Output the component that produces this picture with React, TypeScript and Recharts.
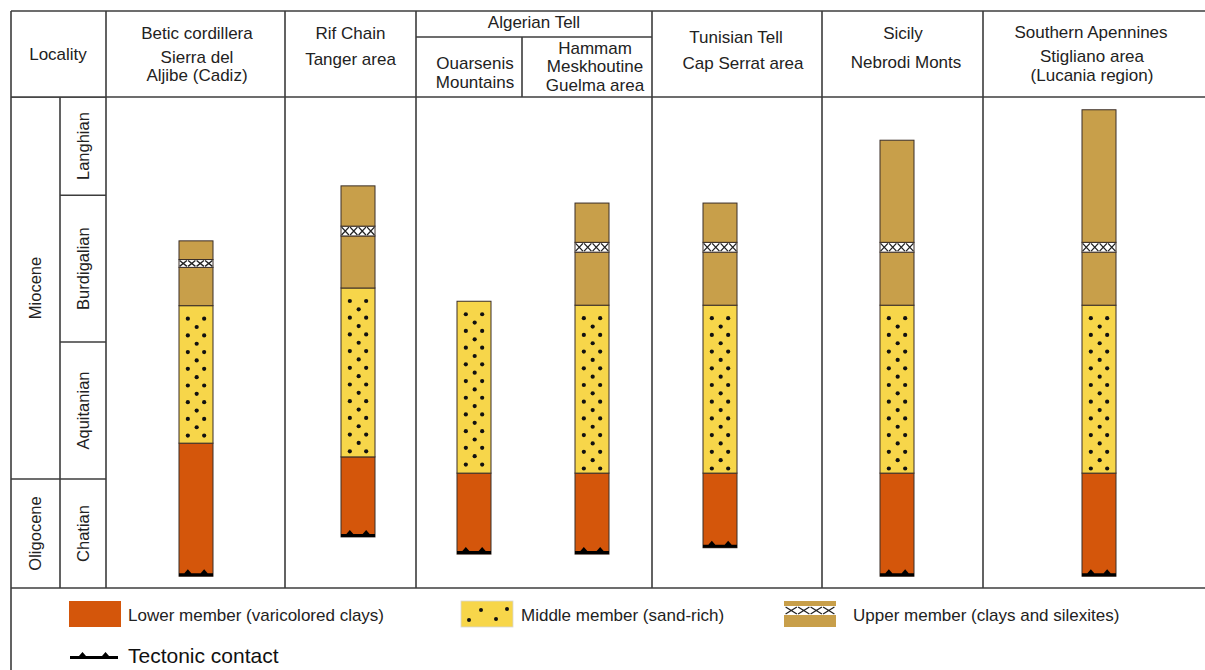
import React from 'react';
import { BarChart, Bar, XAxis, YAxis } from 'recharts';

// ---------------------------------------------------------------------------
// Data (vertical unit: relative stratigraphic height, 0 = table base, 100 = top)
// ---------------------------------------------------------------------------

const EPOCHS = ['Oligocene', 'Miocene'];
const EPOCH_THICKNESS = [22.2, 77.8];

const STAGES = ['Chatian', 'Aquitanian', 'Burdigalian', 'Langhian'];
const STAGE_THICKNESS = [22.2, 27.9, 29.9, 20.0];

const LOCALITIES = [
  'Betic cordillera',
  'Rif Chain',
  'Ouarsenis Mountains',
  'Hammam Meskhoutine',
  'Tunisian Tell',
  'Sicily',
  'Southern Apennines',
];

// boundaries of each section
const SECTION_BASE = [2.4, 10.4, 6.9, 6.9, 8.2, 2.4, 2.4];
const LOWER_TOP = [29.5, 26.7, 23.4, 23.4, 23.4, 23.4, 23.4];
const MIDDLE_TOP = [57.5, 61.1, 58.4, 57.6, 57.6, 57.6, 57.6];
const SILEXITE_BASE = [65.3, 71.7, 58.4, 68.4, 68.4, 68.4, 68.4];
const SILEXITE_TOP = [66.9, 73.7, 58.4, 70.4, 70.4, 70.4, 70.4];
const SECTION_TOP = [70.7, 81.9, 58.4, 78.4, 78.4, 91.2, 97.4];

// ---------------------------------------------------------------------------
// Styles / layout
// ---------------------------------------------------------------------------

const ORANGE = '#d4560b';
const YELLOW = '#f7d64a';
const TAN = '#c89f4a';
const OUTLINE = '#3a2e28';
const LINE = '#3c3c3c';
const TEXT = '#222';
const FONT = '"Liberation Sans", Arial, sans-serif';

const TOP = 97;
const BOTTOM = 588;
const PLOT_H = BOTTOM - TOP;

// table column for each locality and the centre of its column of strata
const COLUMN_LAYOUT = [
  { left: 106, right: 285, bar: 196 },
  { left: 285, right: 416, bar: 358 },
  { left: 416, right: 522, bar: 474 },
  { left: 522, right: 652, bar: 592 },
  { left: 652, right: 822, bar: 720 },
  { left: 822, right: 983, bar: 897 },
  { left: 983, right: 1205, bar: 1099 },
];

const sectionRows = LOCALITIES.map((name, i) => ({
  name,
  base: SECTION_BASE[i],
  lower: LOWER_TOP[i] - SECTION_BASE[i],
  middle: MIDDLE_TOP[i] - LOWER_TOP[i],
  upperLow: SILEXITE_BASE[i] - MIDDLE_TOP[i],
  silexite: SILEXITE_TOP[i] - SILEXITE_BASE[i],
  upperHigh: SECTION_TOP[i] - SILEXITE_TOP[i],
}));

// ---------------------------------------------------------------------------
// Shapes
// ---------------------------------------------------------------------------

interface ShapeProps {
  x?: number;
  y?: number;
  width?: number;
  height?: number;
}

function TectonicMark({ x, y, w }: { x: number; y: number; w: number }) {
  // y = bottom of the mark
  const t1 = x + w * 0.26;
  const t2 = x + w * 0.74;
  return (
    <path
      d={`M${x},${y} L${x},${y - 3} L${t1 - 3.5},${y - 3} L${t1},${y - 7} L${t1 + 3.5},${y - 3}
          L${t2 - 3.5},${y - 3} L${t2},${y - 7} L${t2 + 3.5},${y - 3} L${x + w},${y - 3} L${x + w},${y} Z`}
      fill="#000"
    />
  );
}

function LowerShape(props: ShapeProps) {
  const { x = 0, y = 0, width = 0, height = 0 } = props;
  if (height <= 0) return null;
  return (
    <g>
      <rect x={x} y={y} width={width} height={height} fill={ORANGE} stroke={OUTLINE} strokeWidth={1} />
      <TectonicMark x={x} y={y + height} w={width} />
    </g>
  );
}

function sandDots(x: number, y: number, w: number, h: number) {
  const dots: React.ReactNode[] = [];
  let k = 0;
  for (let cy = y + 13; cy < y + h - 4; cy += 8.35) {
    if (k % 2 === 0) {
      dots.push(<circle key={`a${k}`} cx={x + w * 0.26} cy={cy} r={2.1} fill="#111" />);
      dots.push(<circle key={`b${k}`} cx={x + w * 0.74} cy={cy} r={2.1} fill="#111" />);
    } else {
      dots.push(<circle key={`c${k}`} cx={x + w * 0.52} cy={cy} r={2.1} fill="#111" />);
    }
    k += 1;
  }
  return dots;
}

function MiddleShape(props: ShapeProps) {
  const { x = 0, y = 0, width = 0, height = 0 } = props;
  if (height <= 0) return null;
  return (
    <g>
      <rect x={x} y={y} width={width} height={height} fill={YELLOW} stroke={OUTLINE} strokeWidth={1} />
      {sandDots(x, y, width, height)}
    </g>
  );
}

function UpperShape(props: ShapeProps) {
  const { x = 0, y = 0, width = 0, height = 0 } = props;
  if (height <= 0) return null;
  return <rect x={x} y={y} width={width} height={height} fill={TAN} stroke={OUTLINE} strokeWidth={1} />;
}

function crosses(x: number, y: number, w: number, h: number) {
  const cw = w / 4;
  const out: React.ReactNode[] = [];
  for (let i = 0; i < 4; i++) {
    const x0 = x + i * cw + 0.6;
    const x1 = x + (i + 1) * cw - 0.6;
    out.push(
      <path
        key={i}
        d={`M${x0},${y + 1} L${x1},${y + h - 1} M${x0},${y + h - 1} L${x1},${y + 1}`}
        stroke="#222"
        strokeWidth={1.3}
        fill="none"
      />
    );
  }
  return out;
}

function SilexiteShape(props: ShapeProps) {
  const { x = 0, y = 0, width = 0, height = 0 } = props;
  if (height <= 0) return null;
  return (
    <g>
      <rect x={x} y={y} width={width} height={height} fill="#fff" stroke={OUTLINE} strokeWidth={1} />
      {crosses(x, y, width, height)}
    </g>
  );
}

// stage / epoch cell: top boundary line plus rotated name
function makeIntervalShape(label: string) {
  return function IntervalShape(props: ShapeProps) {
    const { x = 0, y = 0, width = 0, height = 0 } = props;
    const cx = x + width / 2;
    const cy = y + height / 2;
    return (
      <g>
        <line x1={x - 20} y1={y} x2={x + width + 20} y2={y} stroke={LINE} strokeWidth={1.6} />
        <text
          x={cx}
          y={cy}
          transform={`rotate(-90 ${cx} ${cy})`}
          textAnchor="middle"
          dominantBaseline="central"
          fontSize={16.5}
          fontFamily={FONT}
          fill={TEXT}
        >
          {label}
        </text>
      </g>
    );
  };
}

// ---------------------------------------------------------------------------
// Charts
// ---------------------------------------------------------------------------

function IntervalColumn({ left, width, names, values }: { left: number; width: number; names: string[]; values: number[] }) {
  const row: Record<string, number | string> = { name: 'col' };
  names.forEach((n, i) => {
    row[n] = values[i];
  });
  return (
    <div style={{ position: 'absolute', left, top: TOP }}>
      <BarChart width={width} height={PLOT_H} data={[row]} margin={{ top: 0, right: 0, bottom: 0, left: 0 }} barCategoryGap={0} barSize={width}>
        <XAxis dataKey="name" hide />
        <YAxis type="number" domain={[0, 100]} hide />
        {names.map((n) => (
          <Bar key={n} dataKey={n} stackId="t" shape={makeIntervalShape(n)} isAnimationActive={false} />
        ))}
      </BarChart>
    </div>
  );
}

function LocalityColumn({ index }: { index: number }) {
  const col = COLUMN_LAYOUT[index];
  const w = col.right - col.left;
  const c = col.bar - col.left;
  const margin =
    c > w / 2
      ? { top: 0, bottom: 0, left: 2 * c - w, right: 0 }
      : { top: 0, bottom: 0, left: 0, right: w - 2 * c };
  return (
    <div style={{ position: 'absolute', left: col.left, top: TOP }}>
      <BarChart width={w} height={PLOT_H} data={[sectionRows[index]]} margin={margin} barSize={34}>
        <XAxis dataKey="name" hide />
        <YAxis type="number" domain={[0, 100]} hide />
        <Bar dataKey="base" stackId="s" fill="none" isAnimationActive={false} />
        <Bar dataKey="lower" stackId="s" shape={LowerShape} isAnimationActive={false} />
        <Bar dataKey="middle" stackId="s" shape={MiddleShape} isAnimationActive={false} />
        <Bar dataKey="upperLow" stackId="s" shape={UpperShape} isAnimationActive={false} />
        <Bar dataKey="silexite" stackId="s" shape={SilexiteShape} isAnimationActive={false} />
        <Bar dataKey="upperHigh" stackId="s" shape={UpperShape} isAnimationActive={false} />
      </BarChart>
    </div>
  );
}

// ---------------------------------------------------------------------------
// Table frame, header and legend
// ---------------------------------------------------------------------------

const HEADER_TEXT: { x: number; y: number; text: string }[] = [
  { x: 58, y: 60, text: 'Locality' },
  { x: 197, y: 39, text: 'Betic cordillera' },
  { x: 197, y: 63, text: 'Sierra del' },
  { x: 197, y: 81, text: 'Aljibe (Cadiz)' },
  { x: 350.5, y: 39, text: 'Rif Chain' },
  { x: 350.5, y: 65, text: 'Tanger area' },
  { x: 534, y: 28, text: 'Algerian Tell' },
  { x: 475, y: 69, text: 'Ouarsenis' },
  { x: 475, y: 88, text: 'Mountains' },
  { x: 595, y: 54, text: 'Hammam' },
  { x: 595, y: 72, text: 'Meskhoutine' },
  { x: 595, y: 91, text: 'Guelma area' },
  { x: 736, y: 43, text: 'Tunisian Tell' },
  { x: 743, y: 69, text: 'Cap Serrat area' },
  { x: 903, y: 39, text: 'Sicily' },
  { x: 906, y: 68, text: 'Nebrodi Monts' },
  { x: 1091, y: 38, text: 'Southern Apennines' },
  { x: 1092, y: 62, text: 'Stigliano area' },
  { x: 1092, y: 81, text: '(Lucania region)' },
];

function Frame() {
  const v = (x: number, y1: number, y2: number) => (
    <line key={`v${x}-${y1}`} x1={x} y1={y1} x2={x} y2={y2} stroke={LINE} strokeWidth={1.6} />
  );
  const h = (y: number, x1: number, x2: number) => (
    <line key={`h${y}-${x1}`} x1={x1} y1={y} x2={x2} y2={y} stroke={LINE} strokeWidth={1.6} />
  );
  return (
    <svg width={1205} height={670} style={{ position: 'absolute', left: 0, top: 0, pointerEvents: 'none' }}>
      {h(11, 11, 1205)}
      {h(TOP, 11, 1205)}
      {h(BOTTOM, 11, 1205)}
      {h(37, 416, 652)}
      {v(11, 11, 670)}
      {v(60, TOP, BOTTOM)}
      {v(106, 11, BOTTOM)}
      {v(285, 11, BOTTOM)}
      {v(416, 11, BOTTOM)}
      {v(522, 37, TOP)}
      {v(652, 11, BOTTOM)}
      {v(822, 11, BOTTOM)}
      {v(983, 11, BOTTOM)}
      {HEADER_TEXT.map((t) => (
        <text key={t.text} x={t.x} y={t.y} textAnchor="middle" fontSize={17} fontFamily={FONT} fill={TEXT}>
          {t.text}
        </text>
      ))}

      {/* legend */}
      <rect x={69} y={601} width={52} height={26} fill={ORANGE} />
      <text x={128} y={621} fontSize={17} fontFamily={FONT} fill={TEXT}>
        Lower member (varicolored clays)
      </text>

      <rect x={461} y={601} width={52} height={26} fill={YELLOW} stroke="#d8d8d8" strokeWidth={0.8} />
      <circle cx={469} cy={620} r={2} fill="#111" />
      <circle cx={481} cy={610} r={2} fill="#111" />
      <circle cx={496} cy={619} r={2} fill="#111" />
      <circle cx={507} cy={609} r={2} fill="#111" />
      <text x={521} y={621} fontSize={17} fontFamily={FONT} fill={TEXT}>
        Middle member (sand-rich)
      </text>

      <rect x={784} y={601} width={52} height={26} fill={TAN} />
      <rect x={784} y={606} width={52} height={9} fill="#fff" />
      {crosses(785, 606, 50, 9)}
      <text x={853} y={621} fontSize={17} fontFamily={FONT} fill={TEXT}>
        Upper member (clays and silexites)
      </text>

      <TectonicMark x={70} y={659} w={48} />
      <text x={128} y={663} fontSize={21} fontFamily={FONT} fill="#111">
        Tectonic contact
      </text>
    </svg>
  );
}

export default function App() {
  return (
    <div
      style={{
        position: 'absolute',
        left: 0,
        top: 0,
        width: 1205,
        height: 670,
        background: '#fff',
        overflow: 'hidden',
        fontFamily: FONT,
      }}
    >
      <IntervalColumn left={11} width={49} names={EPOCHS} values={EPOCH_THICKNESS} />
      <IntervalColumn left={60} width={46} names={STAGES} values={STAGE_THICKNESS} />
      {LOCALITIES.map((name, i) => (
        <LocalityColumn key={name} index={i} />
      ))}
      <Frame />
    </div>
  );
}
